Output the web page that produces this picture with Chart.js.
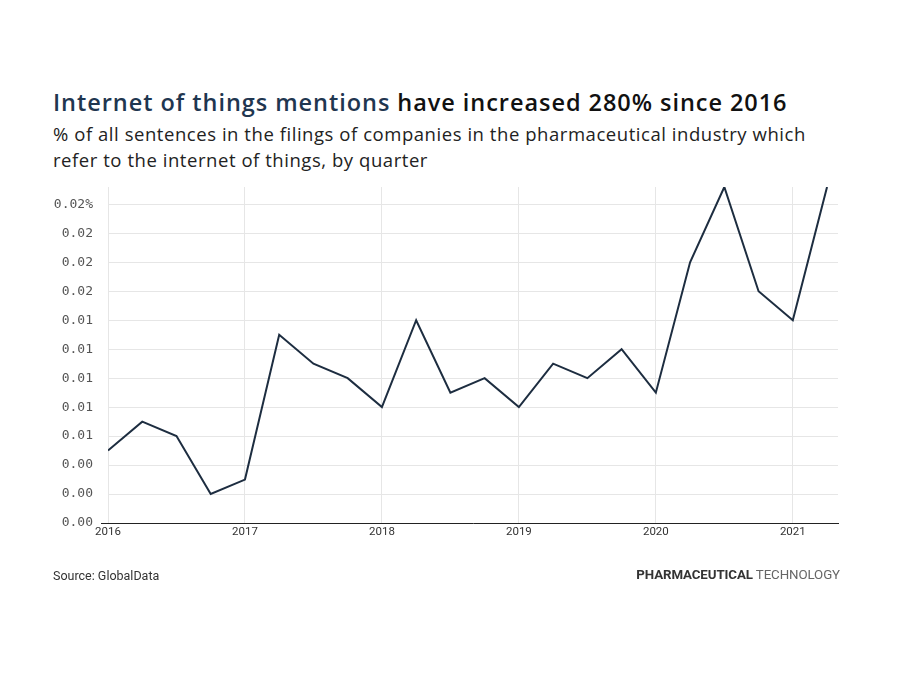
<!DOCTYPE html>
<html>
<head>
<meta charset="utf-8">
<script src="https://cdn.jsdelivr.net/npm/chart.js@4"></script>
<style>
  html, body { margin:0; padding:0; background:#fff; }
  #wrap { position:relative; width:900px; height:675px; overflow:hidden; }
  #title { position:absolute; left:53px; top:86px; font-family:"Open Sans", sans-serif; font-size:23.5px; font-weight:600; color:#111; white-space:nowrap; letter-spacing:0.95px; }
  #title .hl { color:#1f3650; }
  #sub { position:absolute; left:53px; top:121px; font-family:"Open Sans", sans-serif; font-size:18.5px; line-height:26px; color:#222; width:840px; letter-spacing:0.55px; white-space:nowrap; }
  #src { position:absolute; left:53px; top:568px; font-family:"Roboto", sans-serif; font-size:12.5px; color:#333; }
  #brand { position:absolute; right:60px; top:567px; font-family:"Roboto", sans-serif; font-size:13.3px; color:#666; letter-spacing:-0.1px; }
  #brand b { color:#333; font-weight:700; }
  canvas { position:absolute; left:0; top:0; }
</style>
</head>
<body>
<div id="wrap">
  <div id="title"><span class="hl">Internet of things mentions</span> have increased 280% since 2016</div>
  <div id="sub">% of all sentences in the filings of companies in the pharmaceutical industry which<br>refer to the internet of things, by quarter</div>
  <canvas id="c" width="900" height="675"></canvas>
  <div id="src">Source: GlobalData</div>
  <div id="brand"><b>PHARMACEUTICAL</b> TECHNOLOGY</div>
</div>
<script>
const quarters = [2016.0,2016.25,2016.5,2016.75,2017.0,2017.25,2017.5,2017.75,2018.0,2018.25,2018.5,2018.75,2019.0,2019.25,2019.5,2019.75,2020.0,2020.25,2020.5,2020.75,2021.0,2021.25];
const mentionsPct = [0.005,0.007,0.006,0.002,0.003,0.013,0.011,0.010,0.008,0.014,0.009,0.010,0.008,0.011,0.010,0.012,0.009,0.018,0.0232,0.016,0.014,0.0232];
const yearTicks = [2016,2017,2018,2019,2020,2021];

const points = quarters.map((q,i)=>({x:q, y:mentionsPct[i]}));

new Chart(document.getElementById('c'), {
  type:'line',
  data:{ datasets:[{ data:points, borderColor:'#1d2d40', borderWidth:2, pointRadius:0, tension:0, fill:false }]},
  options:{
    responsive:false, animation:false,
    layout:{ padding:{ left:0, top:187, right:62, bottom:122 } },
    plugins:{ legend:{display:false}, tooltip:{enabled:false} },
    scales:{
      x:{
        type:'linear', min:2016, max:2021.33,
        afterFit(s){ s.height = 30; },
        afterBuildTicks(s){ s.ticks = yearTicks.map(v=>({value:v})); },
        ticks:{ stepSize:1, includeBounds:false, padding:2, maxRotation:0, color:'#333', font:{family:'Roboto', size:11.5}, callback:v=>String(v) },
        grid:{ color:'#e6e6e6', lineWidth:1, drawTicks:false },
        border:{ display:true, color:'#222', width:1 }
      },
      y:{
        min:0, max:0.0232,
        afterFit(s){ s.width = 108; },
        ticks:{ stepSize:0.002, includeBounds:false, padding:8, color:'#555', font:{family:'DejaVu Sans Mono', size:13},
          callback:(v,i,arr)=> v.toFixed(2) + (i===arr.length-1 ? '%' : '') },
        grid:{ color:'#e6e6e6', lineWidth:1, tickLength:7, tickColor:(ctx)=> ctx.index===0 ? '#222' : 'rgba(0,0,0,0)' },
        border:{ display:false }
      }
    }
  }
});
</script>
</body>
</html>
